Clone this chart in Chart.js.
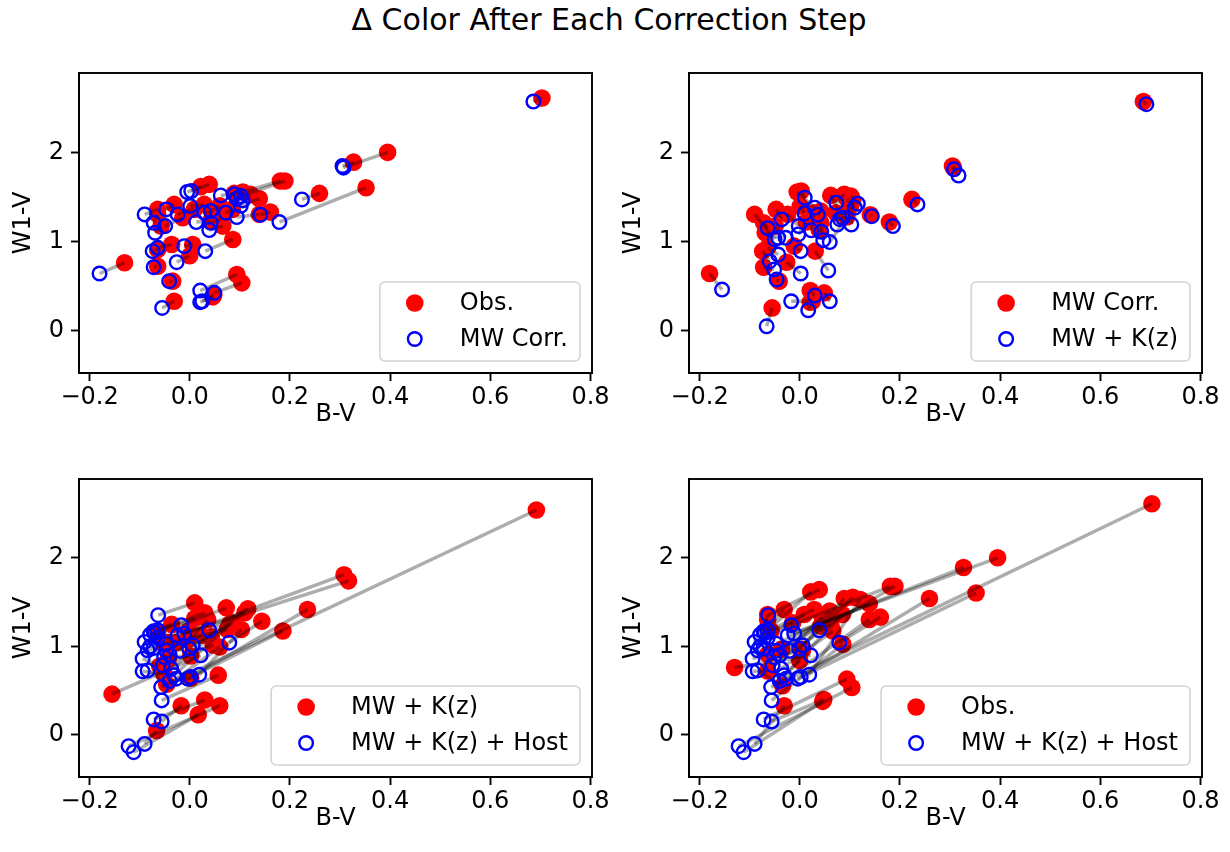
<!DOCTYPE html>
<html>
<head>
<meta charset="utf-8">
<script src="https://cdn.jsdelivr.net/npm/chart.js@4.4.0/dist/chart.umd.min.js"></script>
<style>
    html, body { margin: 0; padding: 0; background: #fff; }
    #quadro { position: relative; width: 1230px; height: 852px; overflow: hidden; }
    #quadro canvas { position: absolute; left: 0; top: 0; }
    #titulo { position: absolute; left: 0; top: 0; width: 1218px; text-align: center;
              font: 30px "DejaVu Sans"; line-height: 40px; color: #000; }
</style>
</head>
<body>
<div id="quadro">
    <div id="titulo">Δ Color After Each Correction Step</div>
    <canvas id="painel0" width="1230" height="852"></canvas>
    <canvas id="painel1" width="1230" height="852"></canvas>
    <canvas id="painel2" width="1230" height="852"></canvas>
    <canvas id="painel3" width="1230" height="852"></canvas>
</div>
<script>
// cores observadas (B-V, W1-V) de cada objeto em cada etapa da correcao
const obsBV  = [0.703, 0.395, 0.327, 0.352, 0.259, 0.181, 0.190, 0.039, 0.022, 0.089, 0.106, 0.121, 0.139, 0.161, 0.139, -0.031, -0.064, 0.086, 0.066, 0.062, 0.029, 0.009, -0.130, -0.034, -0.031, 0.094, 0.104, 0.046, -0.064, -0.064, 0.006, -0.036, -0.014, 0.042, -0.057, -0.064, 0.085, 0.060, 0.045, 0.000, 0.048];
const obsW1V = [2.61, 2.00, 1.89, 1.603, 1.540, 1.678, 1.678, 1.641, 1.615, 1.540, 1.555, 1.529, 1.480, 1.330, 1.304, 1.416, 1.360, 1.023, 1.173, 1.248, 1.416, 1.360, 0.761, 0.555, 0.330, 0.630, 0.536, 0.379, 0.723, 0.910, 0.967, 0.967, 1.266, 1.229, 1.173, 1.304, 1.360, 1.400, 1.330, 0.840, 0.400];

const mwBV  = [0.686, 0.307, 0.305, 0.179, 0.224, 0.089, 0.102, 0.003, -0.005, 0.062, 0.094, 0.106, 0.102, 0.141, 0.094, -0.047, -0.090, 0.031, 0.039, 0.042, 0.001, -0.024, -0.180, -0.041, -0.055, 0.021, 0.049, 0.021, -0.072, -0.074, -0.011, -0.064, -0.049, 0.013, -0.069, -0.072, 0.072, 0.042, 0.029, -0.026, 0.025];
const mwW1V = [2.57, 1.828, 1.847, 1.218, 1.472, 1.529, 1.510, 1.566, 1.555, 1.517, 1.480, 1.461, 1.400, 1.300, 1.274, 1.360, 1.304, 0.892, 1.128, 1.210, 1.397, 1.304, 0.641, 0.555, 0.255, 0.450, 0.424, 0.319, 0.712, 0.892, 0.948, 0.929, 1.173, 1.218, 1.098, 1.210, 1.323, 1.341, 1.323, 0.768, 0.330];

const kzBV  = [0.692, 0.317, 0.308, 0.186, 0.235, 0.073, 0.116, 0.010, 0.030, 0.086, 0.110, 0.103, 0.075, 0.144, 0.060, -0.036, -0.050, 0.057, 0.043, 0.047, 0.010, -0.002, -0.155, -0.046, -0.066, 0.030, 0.060, 0.017, -0.051, -0.060, 0.002, -0.043, -0.028, -0.003, -0.043, -0.064, 0.080, 0.036, 0.023, 0.002, -0.017];
const kzW1V = [2.54, 1.740, 1.809, 1.173, 1.416, 1.435, 1.424, 1.491, 1.379, 1.266, 1.379, 1.191, 1.191, 1.284, 0.993, 1.248, 1.023, 0.675, 1.109, 1.015, 1.315, 1.173, 0.461, 0.573, 0.049, 0.394, 0.330, 0.229, 0.686, 0.779, 0.892, 0.854, 1.042, 1.079, 1.042, 1.150, 1.250, 1.300, 1.125, 0.641, 0.330];

const hostBV  = [-0.057, -0.024, -0.011, -0.004, 0.002, -0.017, 0.039, -0.063, -0.064, 0.006, -0.001, 0.019, -0.047, 0.079, -0.027, -0.072, -0.084, -0.056, -0.037, -0.054, -0.079, -0.064, 0.022, -0.084, -0.090, -0.072, -0.122, -0.112, -0.094, -0.094, -0.051, -0.072, -0.070, -0.047, -0.079, -0.090, -0.031, -0.020, -0.040, -0.040, -0.056];
const hostW1V = [0.540, 1.125, 1.144, 0.635, 0.654, 1.239, 1.182, 1.352, 1.182, 1.012, 0.974, 0.680, 1.031, 1.042, 0.635, 1.171, 0.956, 0.390, 0.748, 0.786, 1.133, 1.095, 0.899, 0.729, -0.101, 0.175, -0.127, -0.195, 0.718, 0.861, 0.880, 0.982, 1.150, 0.950, 1.000, 1.050, 0.673, 0.950, 0.900, 0.610, 0.152];

const ticksBV = [-0.2, 0.0, 0.2, 0.4, 0.6, 0.8];
const ticksW1V = [0, 1, 2];
const rotuloX = 'B-V';
const rotuloY = 'W1-V';

const etapas = {
    obs:  { nome: 'Obs.',               bv: obsBV,  w1v: obsW1V },
    mw:   { nome: 'MW Corr.',           bv: mwBV,   w1v: mwW1V },
    kz:   { nome: 'MW + K(z)',          bv: kzBV,   w1v: kzW1V },
    host: { nome: 'MW + K(z) + Host',   bv: hostBV, w1v: hostW1V }
};

// antes/depois de cada painel
const paineis = [
    { canvas: 'painel0', antes: 'obs', depois: 'mw',   area: { left: 79,  top: 73,  right: 592,  bottom: 373 } },
    { canvas: 'painel1', antes: 'mw',  depois: 'kz',   area: { left: 689, top: 73,  right: 1202, bottom: 373 } },
    { canvas: 'painel2', antes: 'kz',  depois: 'host', area: { left: 79,  top: 479, right: 592,  bottom: 777 } },
    { canvas: 'painel3', antes: 'obs', depois: 'host', area: { left: 689, top: 479, right: 1202, bottom: 777 } }
];

const fonte = 'DejaVu Sans';
const larguraEixoY = 79;
const alturaEixoX = 70;

function formataBV(v) {
    if (Math.abs(v) < 1e-9) return '0.0';
    return (v < 0 ? '\u2212' : '') + Math.abs(v).toFixed(1);
}

function pontos(etapa) {
    return etapa.bv.map((x, i) => ({ x: x, y: etapa.w1v[i] }));
}

const molduraPlugin = {
    id: 'moldura',
    afterDatasetsDraw(chart) {
        const a = chart.chartArea, ctx = chart.ctx;
        ctx.save();
        ctx.strokeStyle = '#000';
        ctx.lineWidth = 1.9;
        ctx.strokeRect(a.left, a.top, a.right - a.left, a.bottom - a.top);
        ctx.restore();
    }
};

const legendaPlugin = {
    id: 'legendaInterna',
    afterDraw(chart, args, opts) {
        const ctx = chart.ctx, a = chart.chartArea;
        ctx.save();
        ctx.font = '24px "' + fonte + '"';
        const larguraTexto = Math.max(...opts.rotulos.map(t => ctx.measureText(t).width));
        const w = 92 + larguraTexto, h = 79;
        const x0 = a.right - 12 - w, y0 = a.bottom - 12 - h;

        ctx.beginPath();
        ctx.roundRect(x0, y0, w, h, 5);
        ctx.fillStyle = 'rgba(255,255,255,0.8)';
        ctx.fill();
        ctx.strokeStyle = '#d4d4d4';
        ctx.lineWidth = 1.6;
        ctx.stroke();

        const yLinhas = [y0 + 21, y0 + 57];
        const xMarca = x0 + 35;

        ctx.beginPath();
        ctx.arc(xMarca, yLinhas[0], 8.8, 0, Math.PI * 2);
        ctx.fillStyle = '#ff0000';
        ctx.fill();

        ctx.beginPath();
        ctx.arc(xMarca, yLinhas[1], 6.8, 0, Math.PI * 2);
        ctx.strokeStyle = '#0000ff';
        ctx.lineWidth = 2.4;
        ctx.stroke();

        ctx.fillStyle = '#000';
        ctx.textBaseline = 'middle';
        ctx.textAlign = 'left';
        ctx.fillText(opts.rotulos[0], x0 + 80, yLinhas[0] + 1);
        ctx.fillText(opts.rotulos[1], x0 + 80, yLinhas[1] + 1);
        ctx.restore();
    }
};

function criaPainel(p) {
    const antes = etapas[p.antes];
    const depois = etapas[p.depois];
    const ptsA = pontos(antes);
    const ptsB = pontos(depois);

    let datasets = [];
    datasets.push({
        label: antes.nome,
        data: ptsA,
        pointRadius: 8.8,
        pointBackgroundColor: '#ff0000',
        pointBorderWidth: 0,
        order: 3
    });
    for (let i = 0; i < ptsA.length; i++) {
        datasets.push({
            label: 'ligacao' + i,
            data: [ptsA[i], ptsB[i]],
            showLine: true,
            borderColor: 'rgba(0,0,0,0.32)',
            borderWidth: 3.5,
            pointRadius: 0,
            order: 2
        });
    }
    datasets.push({
        label: depois.nome,
        data: ptsB,
        pointRadius: 6.8,
        pointBackgroundColor: 'rgba(0,0,0,0)',
        pointBorderColor: '#0000ff',
        pointBorderWidth: 2.4,
        order: 1
    });

    const eixoComum = {
        type: 'linear',
        grid: { drawOnChartArea: false, drawTicks: true, tickLength: 8, tickWidth: 1.9, tickColor: '#000' },
        border: { display: true, color: '#000', width: 1.9 },
    };

    const ctx = document.getElementById(p.canvas).getContext('2d');
    return new Chart(ctx, {
        type: 'scatter',
        data: { datasets: datasets },
        options: {
            responsive: false,
            animation: false,
            events: [],
            layout: {
                padding: {
                    left: p.area.left - larguraEixoY,
                    top: p.area.top,
                    right: 1230 - p.area.right,
                    bottom: 852 - p.area.bottom - alturaEixoX
                }
            },
            plugins: {
                legend: { display: false },
                tooltip: { enabled: false },
                legendaInterna: { rotulos: [antes.nome, depois.nome] }
            },
            scales: {
                x: Object.assign({}, eixoComum, {
                    min: -0.221, max: 0.803,
                    afterBuildTicks: s => { s.ticks = ticksBV.map(v => ({ value: v })); },
                    afterFit: s => { s.height = alturaEixoX; },
                    ticks: { color: '#000', font: { family: fonte, size: 24 }, padding: 2,
                             maxRotation: 0, autoSkip: false, callback: v => formataBV(v) },
                    title: { display: true, text: rotuloX, color: '#000',
                             font: { family: fonte, size: 24 }, padding: { top: 0, bottom: 14 } }
                }),
                y: Object.assign({}, eixoComum, {
                    min: -0.475, max: 2.89,
                    afterBuildTicks: s => { s.ticks = ticksW1V.map(v => ({ value: v })); },
                    afterFit: s => { s.width = larguraEixoY; },
                    ticks: { color: '#000', font: { family: fonte, size: 24 }, padding: 7,
                             autoSkip: false, callback: v => String(v) },
                    title: { display: true, text: rotuloY, color: '#000',
                             font: { family: fonte, size: 24 }, padding: { top: 9, bottom: 0 } }
                })
            }
        },
        plugins: [molduraPlugin, legendaPlugin]
    });
}

paineis.forEach(criaPainel);
</script>
</body>
</html>
